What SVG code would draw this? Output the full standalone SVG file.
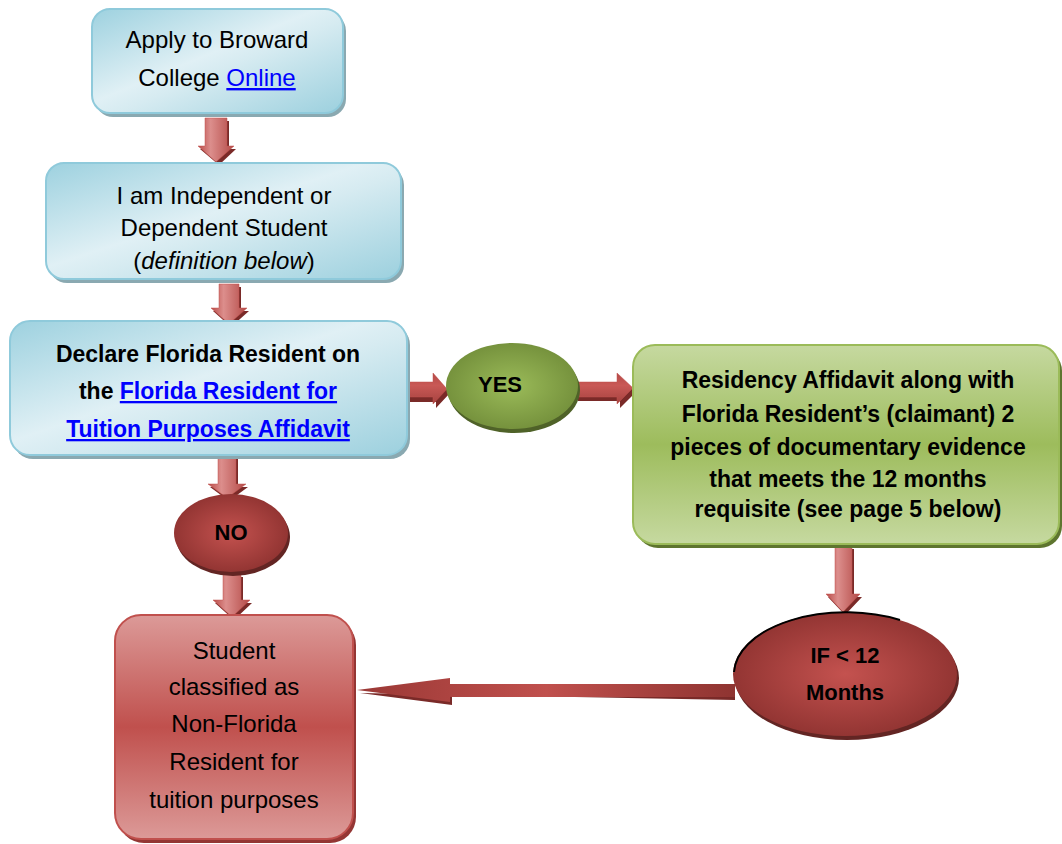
<svg xmlns="http://www.w3.org/2000/svg" width="1062" height="844" viewBox="0 0 1062 844">
<defs>
<style>
text{font-family:"Liberation Sans",Arial,sans-serif;font-size:23px;fill:#000;text-anchor:middle}
.r{font-size:24px}
.b{font-weight:bold}
.lnk{fill:#0000ff;text-decoration:underline}
.blue{fill:url(#gBlue);stroke:#8fcadb;stroke-width:2}
.bshadow{fill:#8aa9b1}
.arrow{fill:url(#gArrV);stroke:#c0504d;stroke-width:0.5}
.arrowh{fill:url(#gArrH);stroke:#c0504d;stroke-width:0.5}
.ashadow{fill:#7a2a28}
</style>
<linearGradient id="gBlue" x1="0" y1="0" x2="1" y2="1">
<stop offset="0" stop-color="#9dd1df"/>
<stop offset="0.45" stop-color="#e0f0f5"/>
<stop offset="0.55" stop-color="#d6ebf1"/>
<stop offset="1" stop-color="#9cd0de"/>
</linearGradient>
<linearGradient id="gGreen" x1="0" y1="0" x2="0" y2="1">
<stop offset="0" stop-color="#c6d9a0"/>
<stop offset="0.5" stop-color="#9dbc5c"/>
<stop offset="1" stop-color="#c6d9a0"/>
</linearGradient>
<linearGradient id="gRed" x1="0" y1="0" x2="0" y2="1">
<stop offset="0" stop-color="#dc9a98"/>
<stop offset="0.5" stop-color="#c0504d"/>
<stop offset="1" stop-color="#dc9a98"/>
</linearGradient>
<radialGradient id="gRedEl" cx="0.5" cy="0.5" r="0.55">
<stop offset="0" stop-color="#c4524f"/>
<stop offset="1" stop-color="#8e3230"/>
</radialGradient>
<radialGradient id="gGreenEl" cx="0.5" cy="0.5" r="0.55">
<stop offset="0" stop-color="#9bbb59"/>
<stop offset="1" stop-color="#728e3a"/>
</radialGradient>
<linearGradient id="gArrV" x1="0" y1="0" x2="1" y2="0">
<stop offset="0" stop-color="#b94b48"/>
<stop offset="0.35" stop-color="#dc8e8c"/>
<stop offset="1" stop-color="#b44a47"/>
</linearGradient>
<linearGradient id="gArrH" x1="0" y1="0" x2="0" y2="1">
<stop offset="0" stop-color="#b44a47"/>
<stop offset="0.4" stop-color="#c95956"/>
<stop offset="1" stop-color="#a5423f"/>
</linearGradient>
<linearGradient id="gArrL" x1="0" y1="0" x2="1" y2="0">
<stop offset="0" stop-color="#9a3835"/>
<stop offset="0.5" stop-color="#c0504d"/>
<stop offset="1" stop-color="#8f3431"/>
</linearGradient>
</defs>
<rect width="1062" height="844" fill="#fff"/>

<g id="connectors">
<polygon class="ashadow" points="207,121 229,121 229,149 236,149 219,165 200,149 207,149"/>
<polygon class="arrow" points="205,118 227,118 227,146 234,146 216,162 198,146 205,146"/>
<polygon class="ashadow" points="221,287 241,287 241,311 249,311 231,327 213,311 221,311"/>
<polygon class="arrow" points="219,284 239,284 239,308 247,308 229,324 211,308 219,308"/>
<polygon class="ashadow" points="220,459 238,459 238,487 248,487 229,501 210,487 220,487"/>
<polygon class="arrow" points="218,456 236,456 236,484 246,484 227,498 208,484 218,484"/>
<polygon class="ashadow" points="225,577 243,577 243,603 252,603 234,620 215,603 225,603"/>
<polygon class="arrow" points="223,574 241,574 241,600 250,600 232,617 213,600 223,600"/>
<polygon class="ashadow" points="837,549 854,549 854,597 862,597 845,615 828,597 837,597"/>
<polygon class="arrow" points="835,546 852,546 852,594 860,594 843,612 826,594 835,594"/>
<polygon class="ashadow" points="407,386 436,386 436,377 450,393 436,408 436,402 407,402"/>
<polygon class="arrowh" points="407,382 433,382 433,373 447,389 433,404 433,397 407,397"/>
<polygon class="ashadow" points="578,386 620,386 620,377 636,392 620,408 620,401 578,401"/>
<polygon class="arrowh" points="578,382 617,382 617,373 633,388 617,404 617,397 578,397"/>
<polygon class="ashadow" points="735,688 452,688 452,705 360,693 735,700"/>
<polygon points="735,684 450,684 450,678 357,690 450,702 450,697 735,697" fill="url(#gArrL)"/>
</g>

<g id="node-apply">
<rect class="bshadow" x="95" y="13" width="251" height="104" rx="18"/>
<rect class="blue" x="92" y="9" width="251" height="104" rx="18"/>
<text class="r" x="217" y="48">Apply to Broward</text>
<text class="r" x="217" y="86">College <tspan class="lnk">Online</tspan></text>
</g>

<g id="node-status">
<rect class="bshadow" x="49" y="167" width="355" height="116" rx="18"/>
<rect class="blue" x="46" y="163" width="355" height="116" rx="18"/>
<text class="r" x="224" y="204">I am Independent or</text>
<text class="r" x="224" y="236">Dependent Student</text>
<text class="r" x="224" y="269">(<tspan font-style="italic">definition below</tspan>)</text>
</g>

<g id="node-declare">
<rect class="bshadow" x="13" y="325" width="397" height="134" rx="20"/>
<rect class="blue" x="10" y="321" width="397" height="134" rx="20"/>
<text class="b" x="208" y="362">Declare Florida Resident on</text>
<text class="b" x="208" y="399">the <tspan class="lnk">Florida Resident for</tspan></text>
<text class="b lnk" x="208" y="437">Tuition Purposes Affidavit</text>
</g>

<g id="node-yes">
<ellipse cx="514" cy="390" rx="66" ry="43" fill="#4f6228"/>
<ellipse cx="512" cy="386" rx="66" ry="43" fill="url(#gGreenEl)"/>
<text class="b" x="500" y="392" style="font-size:22px">YES</text>
</g>

<g id="node-affidavit">
<rect x="636" y="349" width="426" height="199" rx="22" fill="#5e752f"/>
<rect x="633" y="345" width="426" height="199" rx="22" fill="url(#gGreen)" stroke="#9bbb59" stroke-width="2"/>
<text class="b" x="848" y="388">Residency Affidavit along with</text>
<text class="b" x="848" y="422">Florida Resident’s (claimant) 2</text>
<text class="b" x="848" y="455">pieces of documentary evidence</text>
<text class="b" x="848" y="487">that meets the 12 months</text>
<text class="b" x="848" y="517">requisite (see page 5 below)</text>
</g>

<g id="node-no">
<ellipse cx="233" cy="537" rx="57" ry="39" fill="#632523"/>
<ellipse cx="231" cy="533" rx="57" ry="39" fill="url(#gRedEl)"/>
<text class="b" x="231" y="540" style="font-size:22px">NO</text>
</g>

<g id="node-if">
<ellipse cx="847" cy="678" rx="112" ry="62" fill="#632523"/>
<ellipse cx="845" cy="674" rx="112" ry="62" fill="url(#gRedEl)"/>
<path d="M734,672 A112,62 0 0 1 900,620" fill="none" stroke="#000" stroke-width="2"/>
<text class="b" x="845" y="663" style="font-size:22px">IF &lt; 12</text>
<text class="b" x="845" y="700" style="font-size:22px">Months</text>
</g>

<g id="node-nonresident">
<rect x="118" y="619" width="238" height="224" rx="26" fill="#943634"/>
<rect x="115" y="615" width="238" height="224" rx="26" fill="url(#gRed)" stroke="#c0504d" stroke-width="2"/>
<text class="r" x="234" y="659">Student</text>
<text class="r" x="234" y="695">classified as</text>
<text class="r" x="234" y="732">Non-Florida</text>
<text class="r" x="234" y="770">Resident for</text>
<text class="r" x="234" y="808">tuition purposes</text>
</g>
</svg>
